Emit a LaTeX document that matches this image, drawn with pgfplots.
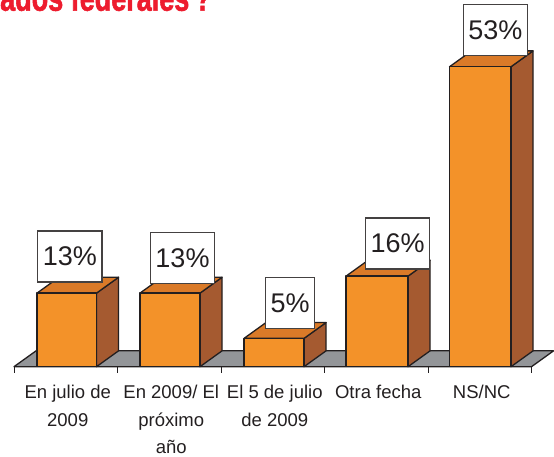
\documentclass[border=0pt]{standalone}
\usepackage{pgfplots}
\pgfplotsset{compat=1.18}
\usepackage{fontspec}
\setmainfont{Liberation Sans}
\newfontfamily\titlefont[FakeStretch=0.74,FakeBold=1.5]{Liberation Sans Bold}
\definecolor{barfront}{HTML}{F39229}
\definecolor{bartop}{HTML}{DA7A28}
\definecolor{barside}{HTML}{A55A30}
\definecolor{floorc}{HTML}{939598}
\definecolor{edge}{HTML}{231F20}
\definecolor{titlered}{HTML}{ED1C2E}
\begin{document}
\begin{tikzpicture}[x=1pt,y=1pt]
\path[use as bounding box] (0,0) rectangle (554,456);
\begin{scope}
\clip (0,0) rectangle (554,456);
\node[anchor=base west,inner sep=0pt,text=titlered,font=\titlefont\fontsize{36.5}{36.5}\selectfont] at (0,445.3) {ados federales\hspace{-2pt} ?};
\end{scope}
\begin{axis}[
  at={(0,0)},anchor=south west,
  scale only axis,width=554pt,height=456pt,
  xmin=-0.1353,xmax=5.2174,ymin=-15.78,ymax=64.79,
  axis x line=middle,axis y line=none,
  axis line style={draw=none},
  xtick={0,1,2,3,4,5},
  xticklabels={{En julio de\\2009},{En 2009/ El\\próximo\\año},{El 5 de julio\\de 2009},{Otra fecha},{NS/NC}},
  x tick label as interval,
  x tick label style={align=center,font=\fontsize{18.5}{27.5}\selectfont,text=edge,anchor=north,yshift=-9pt,xshift=2pt},
  major tick length=6pt,
  tick align=outside,
  x tick style={draw=edge,line width=1pt},
  clip=false,
  every axis plot/.append style={draw=edge,line width=1.3pt,line join=round},
]
% floor
\addplot[fill=floorc] coordinates {(0,0) (5,0) (5.213,2.8) (0.213,2.8)} -- cycle;
% bar 1 (13)
\addplot[fill=barside] coordinates {(0.797,0) (1.010,2.8) (1.010,15.8) (0.797,13)} -- cycle;
\addplot[fill=bartop] coordinates {(0.222,13) (0.435,15.8) (1.010,15.8) (0.797,13)} -- cycle;
\addplot[fill=barfront] coordinates {(0.222,0) (0.797,0) (0.797,13) (0.222,13)} -- cycle;
% bar 2 (13)
\addplot[fill=barside] coordinates {(1.797,0) (2.010,2.8) (2.010,15.8) (1.797,13)} -- cycle;
\addplot[fill=bartop] coordinates {(1.217,13) (1.430,15.8) (2.010,15.8) (1.797,13)} -- cycle;
\addplot[fill=barfront] coordinates {(1.217,0) (1.797,0) (1.797,13) (1.217,13)} -- cycle;
% bar 3 (5)
\addplot[fill=barside] coordinates {(2.802,0) (3.015,2.8) (3.015,7.8) (2.802,5)} -- cycle;
\addplot[fill=bartop] coordinates {(2.222,5) (2.435,7.8) (3.015,7.8) (2.802,5)} -- cycle;
\addplot[fill=barfront] coordinates {(2.222,0) (2.802,0) (2.802,5) (2.222,5)} -- cycle;
% bar 4 (16)
\addplot[fill=barside] coordinates {(3.807,0) (4.020,2.8) (4.020,18.8) (3.807,16)} -- cycle;
\addplot[fill=bartop] coordinates {(3.208,16) (3.421,18.8) (4.020,18.8) (3.807,16)} -- cycle;
\addplot[fill=barfront] coordinates {(3.208,0) (3.807,0) (3.807,16) (3.208,16)} -- cycle;
% bar 5 (53)
\addplot[fill=barside] coordinates {(4.802,0) (5.015,2.8) (5.015,55.8) (4.802,53)} -- cycle;
\addplot[fill=bartop] coordinates {(4.208,53) (4.421,55.8) (5.015,55.8) (4.802,53)} -- cycle;
\addplot[fill=barfront] coordinates {(4.208,0) (4.802,0) (4.802,53) (4.208,53)} -- cycle;
% value labels
\tikzset{vlab/.style={draw=edge!85!white,fill=white,line width=1.3pt,inner sep=0pt,minimum height=51pt,minimum width=64.5pt,font=\fontsize{27}{27}\selectfont,text=edge}}
\node[vlab] at (axis cs:0.539,19.49) {13\%};
\node[vlab] at (axis cs:1.628,19.22) {13\%};
\node[vlab,minimum width=49.4pt] at (axis cs:2.667,11.25) {5\%};
\node[vlab] at (axis cs:3.706,21.77) {16\%};
\node[vlab] at (axis cs:4.652,59.43) {53\%};
\end{axis}
\end{tikzpicture}
\end{document}
